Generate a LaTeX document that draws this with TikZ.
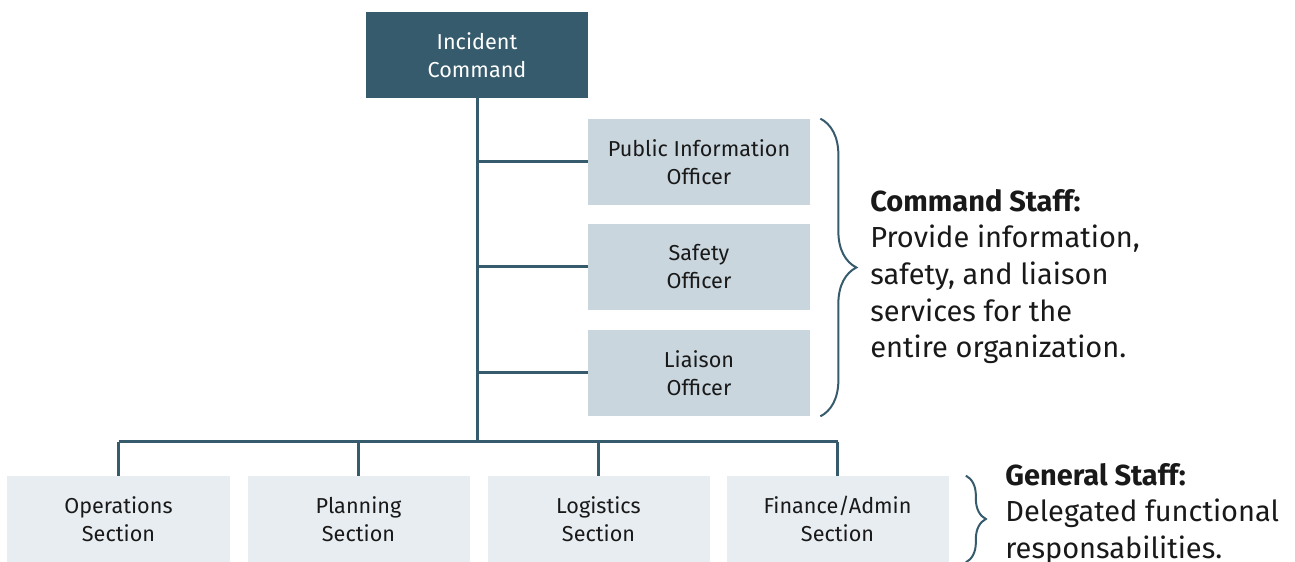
\documentclass[tikz,border=0pt]{standalone}
\usepackage{fontspec}
\setmainfont{Fira Sans}
\usetikzlibrary{decorations.pathreplacing}

\begin{document}
\begin{tikzpicture}
\definecolor{cline}{rgb}{0.212,0.357,0.427}
\definecolor{cfic}{rgb}{0.212,0.357,0.427}
\definecolor{cfcs}{rgb}{0.788,0.839,0.871}
\definecolor{cfgs}{rgb}{0.910,0.929,0.945}
\definecolor{ctxt}{rgb}{0.1,0.1,0.1}
\tikzset{
  unit/.style={minimum width=4.44cm,minimum height=1.72cm,inner sep=0pt,align=center,
    text=ctxt,font=\fontsize{12.3}{15.9}\selectfont},
  cmdunit/.style={unit,fill=cfic,text=white},
  staffunit/.style={unit,fill=cfcs},
  sectunit/.style={unit,fill=cfgs},
  link/.style={draw=cline,line width=0.06cm},
  curly/.style={draw=cline,line width=0.04cm,decorate},
  note/.style={anchor=north west,inner sep=0pt,align=left,text=ctxt,
    font=\fontsize{16.5}{20.8}\selectfont},
}
%
\useasboundingbox (0,0) rectangle (25.9,11.24);
%
\node[cmdunit] (ic) at (9.54,10.14) {Incident\\Command};
\node[staffunit] (pio) at (13.98,8.0) {Public Information\\Officer};
\node[staffunit] (so) at (13.98,5.9) {Safety\\Officer};
\node[staffunit] (lo) at (13.98,3.78) {Liaison\\Officer};
\node[sectunit] (ops) at (2.37,0.86) {Operations\\Section};
\node[sectunit] (pln) at (7.17,0.86) {Planning\\Section};
\node[sectunit] (lgs) at (11.97,0.86) {Logistics\\Section};
\node[sectunit] (fin) at (16.75,0.86) {Finance/Admin\\Section};
%
\coordinate (bus) at (9.54,2.4);
\draw[link] (ic.south) -- (bus);
\draw[link] (ops.north |- bus) -- (fin.north |- bus);
\foreach \s in {pio,so,lo}
  \draw[link] (ic.south |- \s.west) -- (\s.west);
\foreach \s in {ops,pln,lgs,fin}
  \draw[link] (\s.north |- bus) -- (\s.north);
%
\draw[curly,decoration={brace,amplitude=0.72cm}]
  ([xshift=0.2cm]pio.north east) -- ([xshift=0.2cm]lo.south east);
\draw[curly,decoration={brace,amplitude=0.4cm}]
  ([xshift=0.34cm]fin.north east) -- ([xshift=0.34cm]fin.south east);
%
\node[note] (cstxt) at (17.4,7.46) {\textbf{Command Staff:}\\Provide information,\\safety, and liaison\\services for the\\entire organization.};
\node[note] (gstxt) at (20.1,1.98) {\textbf{General Staff:}\\Delegated functional\\responsabilities.};
%
\end{tikzpicture}
\end{document}
